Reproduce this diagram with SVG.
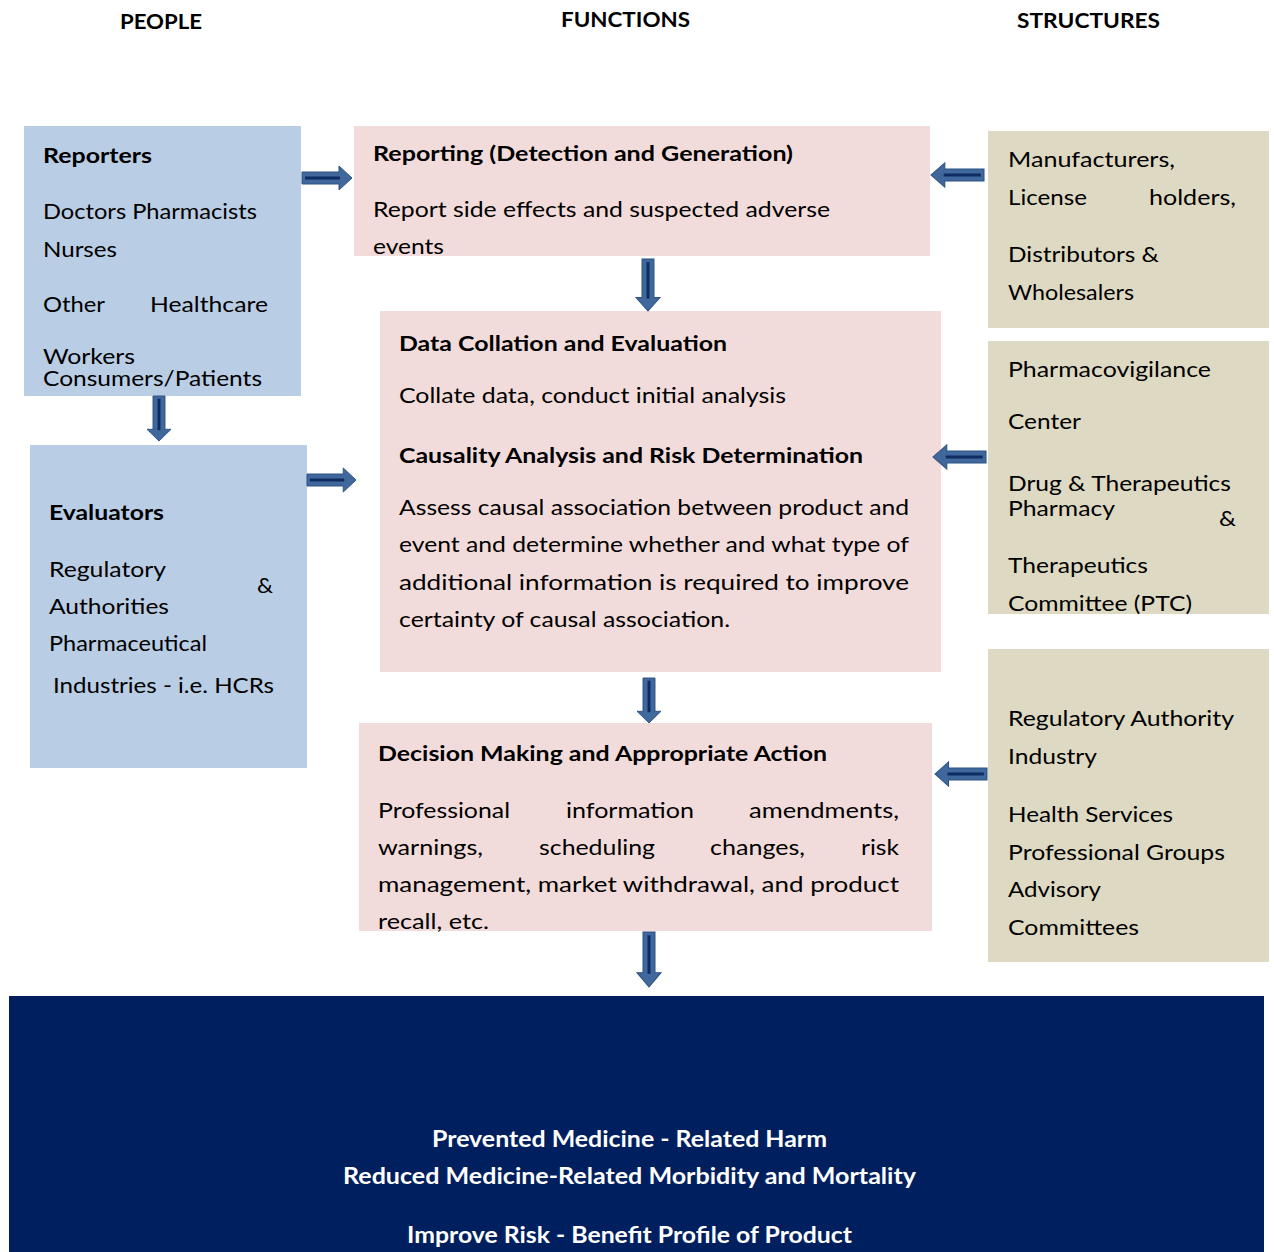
<svg xmlns="http://www.w3.org/2000/svg" xmlns:xlink="http://www.w3.org/1999/xlink" width="1274" height="1252" viewBox="0 0 1274 1252">
<style>
text{font-family:Lato,"Open Sans","Liberation Sans",sans-serif;font-size:21px;fill:#000}
.b{font-weight:bold}
.h{font-weight:bold;font-size:20px}
.w{fill:#fff;font-weight:bold;font-size:22px}
.people{fill:#b9cde5}
.func{fill:#f2dcdb}
.struct{fill:#ddd9c3}
</style>
<defs>
<g id="arr">
<path d="M0,-6 H37 V-12 L50,0 L37,12 V6 H0 Z" fill="#41689c" stroke="#2d5283" stroke-width="1"/>
<path d="M3,0 H38" stroke="#0f2c62" stroke-width="3"/>
</g>
</defs>
<rect width="1274" height="1252" fill="#fff"/>
<g id="headers">
<text class="h" x="120" y="29" textLength="82" lengthAdjust="spacingAndGlyphs">PEOPLE</text>
<text class="h" x="561" y="27" textLength="129" lengthAdjust="spacingAndGlyphs">FUNCTIONS</text>
<text class="h" x="1017" y="28" textLength="143" lengthAdjust="spacingAndGlyphs">STRUCTURES</text>
</g>
<g id="reporters">
<rect class="people" x="24" y="126" width="277" height="270"/>
<text class="b" x="43" y="163" textLength="109" lengthAdjust="spacingAndGlyphs">Reporters</text>
<text x="43" y="219" textLength="214" lengthAdjust="spacingAndGlyphs">Doctors Pharmacists</text>
<text x="43" y="257" textLength="74" lengthAdjust="spacingAndGlyphs">Nurses</text>
<text x="43" y="312" textLength="62" lengthAdjust="spacingAndGlyphs">Other</text>
<text x="150" y="312" textLength="118" lengthAdjust="spacingAndGlyphs">Healthcare</text>
<text x="43" y="364" textLength="92" lengthAdjust="spacingAndGlyphs">Workers</text>
<text x="43" y="386" textLength="219" lengthAdjust="spacingAndGlyphs">Consumers/Patients</text>
</g>
<g id="evaluators">
<rect class="people" x="30" y="445" width="277" height="323"/>
<text class="b" x="49" y="520" textLength="115" lengthAdjust="spacingAndGlyphs">Evaluators</text>
<text x="49" y="577" textLength="117" lengthAdjust="spacingAndGlyphs">Regulatory</text>
<text x="257" y="593" textLength="16" lengthAdjust="spacingAndGlyphs">&amp;</text>
<text x="49" y="614" textLength="120" lengthAdjust="spacingAndGlyphs">Authorities</text>
<text x="49" y="651" textLength="158" lengthAdjust="spacingAndGlyphs">Pharmaceutical</text>
<text x="53" y="693" textLength="221" lengthAdjust="spacingAndGlyphs">Industries - i.e. HCRs</text>
</g>
<g id="reporting">
<rect class="func" x="354" y="126" width="576" height="130"/>
<text class="b" x="373" y="161" textLength="420" lengthAdjust="spacingAndGlyphs">Reporting (Detection and Generation)</text>
<text x="373" y="217" textLength="457" lengthAdjust="spacingAndGlyphs">Report side effects and suspected adverse</text>
<text x="373" y="254" textLength="71" lengthAdjust="spacingAndGlyphs">events</text>
</g>
<g id="collation">
<rect class="func" x="380" y="311" width="561" height="361"/>
<text class="b" x="399" y="351" textLength="328" lengthAdjust="spacingAndGlyphs">Data Collation and Evaluation</text>
<text x="399" y="403" textLength="387" lengthAdjust="spacingAndGlyphs">Collate data, conduct initial analysis</text>
<text class="b" x="399" y="463" textLength="464" lengthAdjust="spacingAndGlyphs">Causality Analysis and Risk Determination</text>
<text x="399" y="515" textLength="510" lengthAdjust="spacingAndGlyphs">Assess causal association between product and</text>
<text x="399" y="552" textLength="510" lengthAdjust="spacingAndGlyphs">event and determine whether and what type of</text>
<text x="399" y="590" textLength="510" lengthAdjust="spacingAndGlyphs">additional information is required to improve</text>
<text x="399" y="627" textLength="331" lengthAdjust="spacingAndGlyphs">certainty of causal association.</text>
</g>
<g id="decision">
<rect class="func" x="359" y="723" width="573" height="208"/>
<text class="b" x="378" y="761" textLength="449" lengthAdjust="spacingAndGlyphs">Decision Making and Appropriate Action</text>
<text x="378" y="818" textLength="132" lengthAdjust="spacingAndGlyphs">Professional</text>
<text x="566" y="818" textLength="128" lengthAdjust="spacingAndGlyphs">information</text>
<text x="749" y="818" textLength="150" lengthAdjust="spacingAndGlyphs">amendments,</text>
<text x="378" y="855" textLength="105" lengthAdjust="spacingAndGlyphs">warnings,</text>
<text x="539" y="855" textLength="116" lengthAdjust="spacingAndGlyphs">scheduling</text>
<text x="710" y="855" textLength="95" lengthAdjust="spacingAndGlyphs">changes,</text>
<text x="861" y="855" textLength="38" lengthAdjust="spacingAndGlyphs">risk</text>
<text x="378" y="892" textLength="521" lengthAdjust="spacingAndGlyphs">management, market withdrawal, and product</text>
<text x="378" y="929" textLength="111" lengthAdjust="spacingAndGlyphs">recall, etc.</text>
</g>
<g id="structures-1">
<rect class="struct" x="988" y="131" width="281" height="197"/>
<text x="1008" y="167" textLength="167" lengthAdjust="spacingAndGlyphs">Manufacturers,</text>
<text x="1008" y="205" textLength="79" lengthAdjust="spacingAndGlyphs">License</text>
<text x="1149" y="205" textLength="87" lengthAdjust="spacingAndGlyphs">holders,</text>
<text x="1008" y="262" textLength="151" lengthAdjust="spacingAndGlyphs">Distributors &amp;</text>
<text x="1008" y="300" textLength="126" lengthAdjust="spacingAndGlyphs">Wholesalers</text>
</g>
<g id="structures-2">
<rect class="struct" x="988" y="341" width="281" height="273"/>
<text x="1008" y="377" textLength="203" lengthAdjust="spacingAndGlyphs">Pharmacovigilance</text>
<text x="1008" y="429" textLength="73" lengthAdjust="spacingAndGlyphs">Center</text>
<text x="1008" y="491" textLength="223" lengthAdjust="spacingAndGlyphs">Drug &amp; Therapeutics</text>
<text x="1008" y="516" textLength="107" lengthAdjust="spacingAndGlyphs">Pharmacy</text>
<text x="1219" y="526" textLength="17" lengthAdjust="spacingAndGlyphs">&amp;</text>
<text x="1008" y="573" textLength="140" lengthAdjust="spacingAndGlyphs">Therapeutics</text>
<text x="1008" y="611" textLength="184" lengthAdjust="spacingAndGlyphs">Committee (PTC)</text>
</g>
<g id="structures-3">
<rect class="struct" x="988" y="649" width="281" height="313"/>
<text x="1008" y="726" textLength="226" lengthAdjust="spacingAndGlyphs">Regulatory Authority</text>
<text x="1008" y="764" textLength="89" lengthAdjust="spacingAndGlyphs">Industry</text>
<text x="1008" y="822" textLength="165" lengthAdjust="spacingAndGlyphs">Health Services</text>
<text x="1008" y="860" textLength="217" lengthAdjust="spacingAndGlyphs">Professional Groups</text>
<text x="1008" y="897" textLength="93" lengthAdjust="spacingAndGlyphs">Advisory</text>
<text x="1008" y="935" textLength="131" lengthAdjust="spacingAndGlyphs">Committees</text>
</g>
<g id="outcomes">
<rect x="9" y="996" width="1255" height="256" fill="#001f5f"/>
<text class="w" x="432" y="1147" textLength="395" lengthAdjust="spacingAndGlyphs">Prevented Medicine - Related Harm</text>
<text class="w" x="343" y="1184" textLength="573" lengthAdjust="spacingAndGlyphs">Reduced Medicine-Related Morbidity and Mortality</text>
<text class="w" x="407" y="1243" textLength="445" lengthAdjust="spacingAndGlyphs">Improve Risk - Benefit Profile of Product</text>
</g>
<g id="connectors">
<use xlink:href="#arr" transform="translate(302,178)"/>
<use xlink:href="#arr" transform="translate(307,480) scale(0.98,1)"/>
<use xlink:href="#arr" transform="translate(984,175) rotate(180) scale(1.06,1)"/>
<use xlink:href="#arr" transform="translate(986,457) rotate(180) scale(1.06,1)"/>
<use xlink:href="#arr" transform="translate(987,774) rotate(180) scale(1.04,1)"/>
<use xlink:href="#arr" transform="translate(648,259) rotate(90) scale(1.04,1)"/>
<use xlink:href="#arr" transform="translate(159,396) rotate(90) scale(0.9,1)"/>
<use xlink:href="#arr" transform="translate(649,678) rotate(90) scale(0.9,1)"/>
<use xlink:href="#arr" transform="translate(649,932) rotate(90) scale(1.1,1)"/>
</g>
</svg>
